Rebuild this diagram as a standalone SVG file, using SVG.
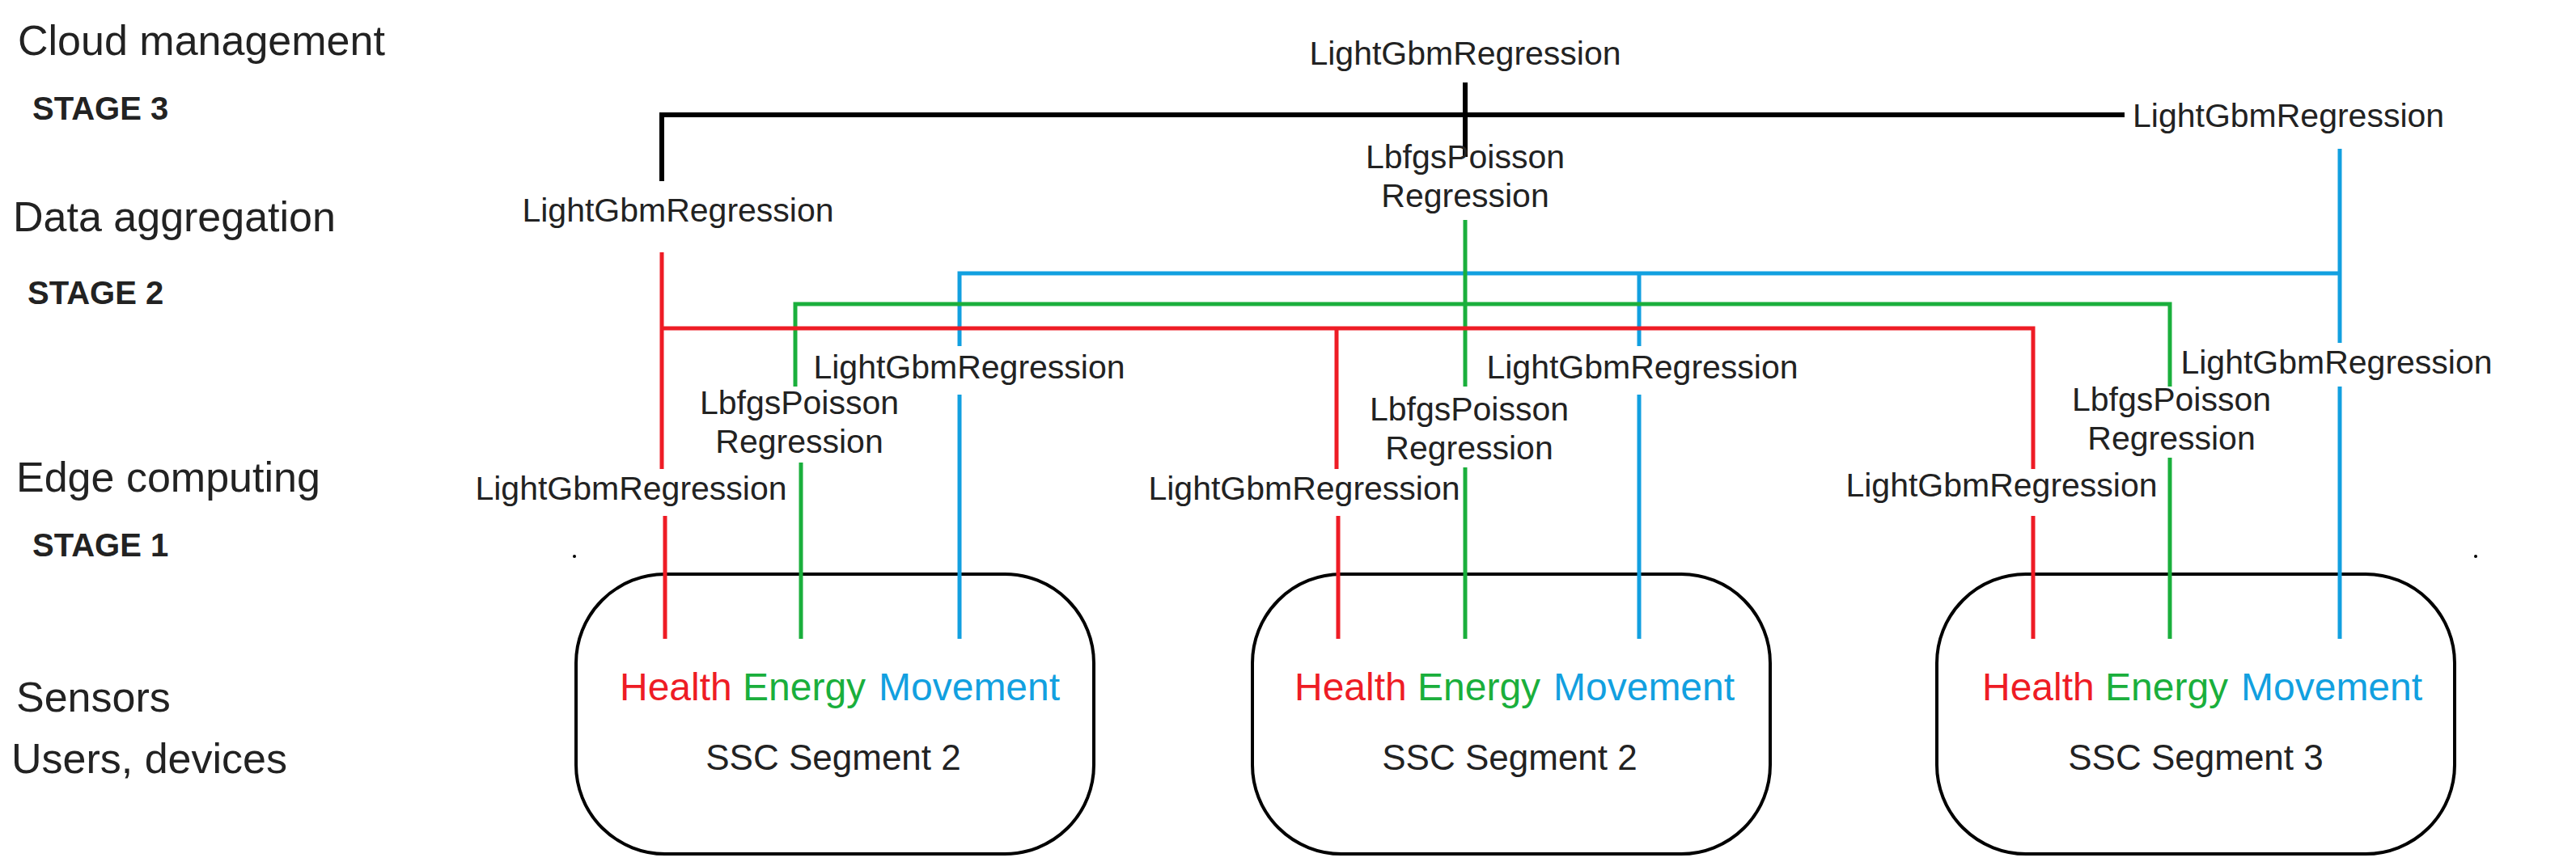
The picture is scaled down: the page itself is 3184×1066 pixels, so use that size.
<svg xmlns="http://www.w3.org/2000/svg" width="3184" height="1066" viewBox="0 0 3184 1066">
<style>
text{font-family:"Liberation Sans",Arial,sans-serif;fill:#222}
.m{font-size:41px;text-anchor:middle}
.side{font-size:52px}
.stage{font-size:40px;font-weight:bold}
.s{font-size:48px}
.seg{font-size:44px;text-anchor:middle}
.k{stroke:#000;stroke-width:6;fill:none}
.r{stroke:#ee1c25;stroke-width:5;fill:none}
.g{stroke:#1aaf3c;stroke-width:5;fill:none}
.b{stroke:#12a0e0;stroke-width:5;fill:none}
.box{fill:#fff;stroke:#000;stroke-width:4}
</style>
<rect width="3184" height="1066" fill="#fff"/>
<g id="side-labels">
<text class="side" x="22" y="68">Cloud management</text>
<text class="stage" x="40" y="148">STAGE 3</text>
<text class="side" x="16" y="286">Data aggregation</text>
<text class="stage" x="34" y="376">STAGE 2</text>
<text class="side" x="20" y="608">Edge computing</text>
<text class="stage" x="40" y="688">STAGE 1</text>
<text class="side" x="20" y="880">Sensors</text>
<text class="side" x="14" y="956">Users, devices</text>
<circle cx="710" cy="688" r="2" fill="#000"/>
<circle cx="3060" cy="688" r="2" fill="#000"/>
</g>
<g id="segment1">
<rect class="box" x="712" y="710" width="640" height="346" rx="110" ry="110"/>
<text class="s" x="766" y="866" style="fill:#ee1c25">Health</text>
<text class="s" x="918" y="866" style="fill:#1aaf3c">Energy</text>
<text class="s" x="1086" y="866" style="fill:#12a0e0">Movement</text>
<text class="seg" x="1030" y="952">SSC Segment 2</text>
</g>
<g id="segment2">
<rect class="box" x="1548" y="710" width="640" height="346" rx="110" ry="110"/>
<text class="s" x="1600" y="866" style="fill:#ee1c25">Health</text>
<text class="s" x="1752" y="866" style="fill:#1aaf3c">Energy</text>
<text class="s" x="1920" y="866" style="fill:#12a0e0">Movement</text>
<text class="seg" x="1866" y="952">SSC Segment 2</text>
</g>
<g id="segment3">
<rect class="box" x="2394" y="710" width="640" height="346" rx="110" ry="110"/>
<text class="s" x="2450" y="866" style="fill:#ee1c25">Health</text>
<text class="s" x="2602" y="866" style="fill:#1aaf3c">Energy</text>
<text class="s" x="2770" y="866" style="fill:#12a0e0">Movement</text>
<text class="seg" x="2714" y="952">SSC Segment 3</text>
</g>
<g id="connectors">
<path class="k" d="M818 224V142H2626M1811 102V194"/>
<path class="b" d="M1186 428V338H2892M2892 184V424M2026 338V428M2892 478V790M1186 488V790M2026 488V790"/>
<path class="g" d="M983 478V376H2682V478M1811 272V478M990 572V790M1811 578V790M2682 566V790"/>
<path class="r" d="M818 312V580M818 406H2513V580M1652 406V580M822 638V790M1654 638V790M2513 638V790"/>
</g>
<g id="model-labels">
<text class="m" x="1811" y="80">LightGbmRegression</text>
<text class="m" x="2636" y="157" style="text-anchor:start">LightGbmRegression</text>
<text class="m" x="838" y="274">LightGbmRegression</text>
<text class="m" x="1811" y="208">LbfgsPoisson</text>
<text class="m" x="1811" y="256">Regression</text>
<text class="m" x="1198" y="468">LightGbmRegression</text>
<text class="m" x="2030" y="468">LightGbmRegression</text>
<text class="m" x="2888" y="462">LightGbmRegression</text>
<text class="m" x="988" y="512">LbfgsPoisson</text>
<text class="m" x="988" y="560">Regression</text>
<text class="m" x="1816" y="520">LbfgsPoisson</text>
<text class="m" x="1816" y="568">Regression</text>
<text class="m" x="2684" y="508">LbfgsPoisson</text>
<text class="m" x="2684" y="556">Regression</text>
<text class="m" x="780" y="618">LightGbmRegression</text>
<text class="m" x="1612" y="618">LightGbmRegression</text>
<text class="m" x="2474" y="614">LightGbmRegression</text>
</g>
</svg>
